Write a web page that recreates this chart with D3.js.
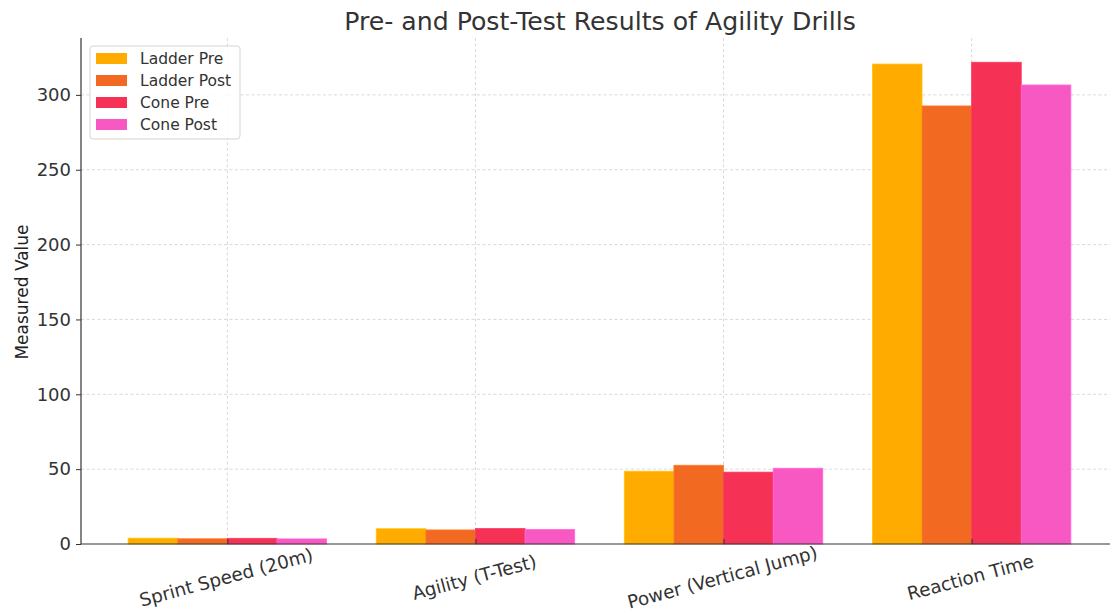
<!DOCTYPE html>
<html>
<head>
<meta charset="utf-8">
<script src="https://cdn.jsdelivr.net/npm/d3@7"></script>
<style>
  html, body { margin: 0; padding: 0; background: #fff; }
  svg { display: block; font-family: "DejaVu Sans", sans-serif; }
</style>
</head>
<body>
<svg id="chart" width="1110" height="612"></svg>
<script>
const categories = ["Sprint Speed (20m)", "Agility (T-Test)", "Power (Vertical Jump)", "Reaction Time"];
const seriesNames = ["Ladder Pre", "Ladder Post", "Cone Pre", "Cone Post"];
const ladderPre  = [3.9, 10.2, 48.6, 320.6];
const ladderPost = [3.5, 9.4, 52.6, 292.6];
const conePre    = [3.8, 10.3, 48.0, 321.8];
const conePost   = [3.4, 9.7, 50.6, 306.6];
const seriesValues = [ladderPre, ladderPost, conePre, conePost];
const colors = ["#FFAB00", "#F26A22", "#F53155", "#F858C1"];
const yTicks = [0, 50, 100, 150, 200, 250, 300];

const svg = d3.select("#chart");
const margin = { left: 81, top: 38, bottom: 544 };
const plotRight = 1118;

// x in "category index" units, matplotlib-like limits
const x = d3.scaleLinear().domain([-0.59, 3.59]).range([margin.left, plotRight]);
const y = d3.scaleLinear().domain([0, 338]).range([margin.bottom, margin.top]);
const barW = 0.2;
const offsets = [-0.3, -0.1, 0.1, 0.3];

// gridlines
const grid = svg.append("g");
grid.selectAll("line.h").data(yTicks.filter(d => d > 0)).join("line")
  .attr("x1", margin.left).attr("x2", plotRight)
  .attr("y1", d => y(d)).attr("y2", d => y(d))
  .attr("stroke", "#cfcfcf").attr("stroke-width", 0.8).attr("stroke-dasharray", "3,2.5");
grid.selectAll("line.v").data(categories).join("line")
  .attr("x1", (d, i) => x(i)).attr("x2", (d, i) => x(i))
  .attr("y1", margin.top).attr("y2", margin.bottom)
  .attr("stroke", "#cfcfcf").attr("stroke-width", 0.8).attr("stroke-dasharray", "3,2.5");

// bars
seriesValues.forEach((vals, s) => {
  svg.append("g").selectAll("rect").data(vals).join("rect")
    .attr("x", (d, i) => x(i + offsets[s] - barW / 2))
    .attr("width", (d, i) => x(i + offsets[s] + barW / 2) - x(i + offsets[s] - barW / 2))
    .attr("y", d => y(d))
    .attr("height", d => y(0) - y(d))
    .attr("fill", colors[s])
    .attr("stroke", d3.color(colors[s]).brighter(0.4))
    .attr("stroke-width", 0.8);
});

// y axis
const yAxis = d3.axisLeft(y).tickValues(yTicks).tickSize(5).tickPadding(5);
const gy = svg.append("g").attr("transform", `translate(${margin.left},0)`).call(yAxis);
gy.select(".domain").attr("stroke", "#333").attr("stroke-width", 1.2).attr("d", `M0,${margin.top}V${margin.bottom}`);
gy.selectAll(".tick line").attr("stroke", "#333");
gy.selectAll(".tick text").attr("font-size", 18).attr("fill", "#333").attr("font-family", "DejaVu Sans");

// x axis
const xAxis = d3.axisBottom(x).tickValues(d3.range(categories.length)).tickFormat(i => categories[i]).tickSize(-5).tickPadding(0);
const gx = svg.append("g").attr("transform", `translate(0,${margin.bottom})`).call(xAxis);
gx.select(".domain").attr("stroke", "#333").attr("stroke-width", 1.2).attr("d", `M${margin.left},0H${plotRight}`);
gx.selectAll(".tick line").attr("stroke", "#333");
gx.selectAll(".tick text")
  .attr("font-size", 18.3).attr("fill", "#333").attr("font-family", "DejaVu Sans")
  .attr("text-anchor", "middle")
  .attr("dy", 0)
  .attr("transform", "translate(0,39.5) rotate(-15)");

// y label
svg.append("text")
  .attr("transform", `translate(28,${(margin.top + margin.bottom) / 2 + 1}) rotate(-90)`)
  .attr("text-anchor", "middle")
  .attr("font-size", 17).attr("fill", "#222")
  .text("Measured Value");

// title
svg.append("text")
  .attr("x", 600).attr("y", 30)
  .attr("text-anchor", "middle")
  .attr("font-size", 25.2).attr("fill", "#333")
  .text("Pre- and Post-Test Results of Agility Drills");

// legend
const lg = svg.append("g").attr("transform", "translate(90,46)");
lg.append("rect").attr("x", 0).attr("y", 0).attr("width", 150).attr("height", 93)
  .attr("rx", 3).attr("fill", "#fff").attr("fill-opacity", 0.85)
  .attr("stroke", "#d5d5d5").attr("stroke-width", 1);
seriesNames.forEach((name, i) => {
  const row = lg.append("g").attr("transform", `translate(0,${12 + i * 22})`);
  row.append("rect").attr("x", 6).attr("y", -5).attr("width", 31).attr("height", 11).attr("fill", colors[i]);
  row.append("text").attr("x", 50).attr("y", 6).attr("font-size", 15.5).attr("fill", "#333").text(name);
});
</script>
</body>
</html>
